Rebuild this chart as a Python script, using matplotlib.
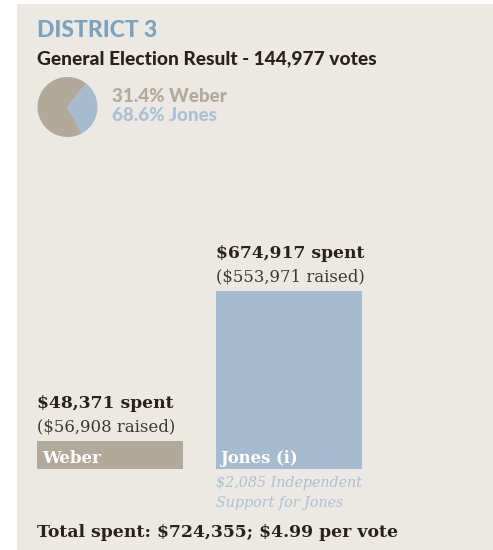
import matplotlib.pyplot as plt
from matplotlib.patches import Rectangle

plt.rcParams["text.parse_math"] = False

# data
candidates = ["Weber", "Jones (i)"]
spent = [48371, 674917]
raised = [56908, 553971]
vote_share = [31.4, 68.6]
total_votes = 144977
total_spent = 724355
per_vote = 4.99
independent = 2085

W, H = 493, 550
DPI = 100
BG = "#ECE8E3"
TAN = "#B1AA9A"
BLUE = "#A6BBCF"
LIGHT_BLUE = "#A9C1D3"
INK = "#2A2118"
GREY = "#3E3832"


def fx(px):
    return px / W


def fy(px):
    return 1 - px / H


fig = plt.figure(figsize=(W / DPI, H / DPI), dpi=DPI, facecolor="white")
fig.patches.append(Rectangle((fx(17), 0), 1 - fx(17), fy(4), transform=fig.transFigure,
                             facecolor=BG, edgecolor="none", zorder=-5))

sans = "Lato"
serif = "DejaVu Serif"

fig.text(fx(37), fy(37), "DISTRICT 3", family=sans, weight="black", size=16.5,
         color="#7BA3BE", va="baseline")
fig.text(fx(37), fy(64), f"General Election Result - {total_votes:,} votes", family=sans,
         weight="black", size=13.8, color=INK, va="baseline")

# pie
pax = fig.add_axes([fx(37.5), fy(137), fx(60), 60 / H])
pax.pie([vote_share[0], vote_share[1]], colors=[BLUE, TAN], startangle=-61.5,
        counterclock=True, wedgeprops=dict(linewidth=0))
pax.set_xlim(-1, 1)
pax.set_ylim(-1, 1)
pax.set_aspect("equal")
pax.axis("off")

fig.text(fx(112), fy(102), f"{vote_share[0]}% Weber", family=sans, weight="black", size=13.5,
         color=TAN, va="baseline")
fig.text(fx(112), fy(121), f"{vote_share[1]}% Jones", family=sans, weight="black", size=13.5,
         color=LIGHT_BLUE, va="baseline")

# bars
label_band = 68600
bar_w = 146 / 179
bax = fig.add_axes([fx(37), fy(469), fx(37 + 179 + 146) - fx(37), (469 - 291) / H])
bax.bar([0, 1], [s + label_band for s in spent], bottom=-label_band, width=bar_w,
        align="edge", color=[TAN, BLUE], linewidth=0)
bax.set_xlim(0, 1 + bar_w)
bax.set_ylim(-label_band, max(spent))
bax.axis("off")

for i, (s, r) in enumerate(zip(spent, raised)):
    bax.annotate(f"${s:,} spent", (i, s), xytext=(0, 33), textcoords="offset pixels",
                 family=serif, weight="bold", size=12.3, color=INK, va="baseline",
                 annotation_clip=False)
    bax.annotate(f"(${r:,} raised)", (i, s), xytext=(0, 10), textcoords="offset pixels",
                 family=serif, size=11.9, color=GREY, va="baseline",
                 annotation_clip=False)

bax.annotate(candidates[0], (0, -label_band), xytext=(5, 6), textcoords="offset pixels",
             family=serif, weight="bold", size=12, color="white", va="baseline")
bax.annotate(candidates[1], (1, -label_band), xytext=(4, 6), textcoords="offset pixels",
             family=serif, weight="bold", size=11.8, color="white", va="baseline")

bax.annotate(f"${independent:,} Independent", (1, -label_band), xytext=(0, -18),
             textcoords="offset pixels", family=serif, style="italic", size=10.3,
             color=LIGHT_BLUE, va="baseline", annotation_clip=False)
bax.annotate("Support for Jones", (1, -label_band), xytext=(0, -38),
             textcoords="offset pixels", family=serif, style="italic", size=10.3,
             color=LIGHT_BLUE, va="baseline", annotation_clip=False)

fig.text(fx(37), fy(537), f"Total spent: ${total_spent:,}; ${per_vote} per vote",
         family=serif, weight="bold", size=12.4, color=INK, va="baseline")

fig.savefig("out.png", dpi=DPI, facecolor=fig.get_facecolor())
